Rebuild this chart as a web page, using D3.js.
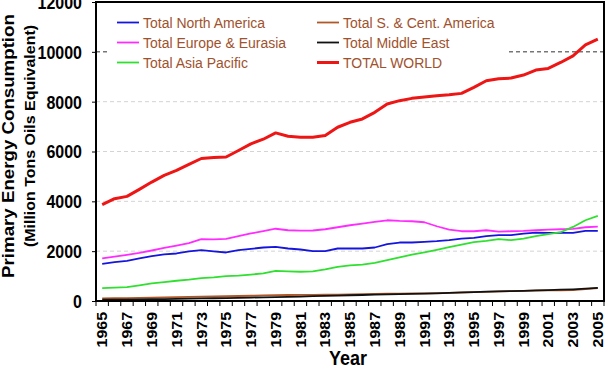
<!DOCTYPE html>
<html>
<head>
<meta charset="utf-8">
<script src="https://cdn.jsdelivr.net/npm/d3@7"></script>
<style>
  body { margin: 0; background: #fff; }
  svg { display: block; font-family: "Liberation Sans", Arial, sans-serif; }
</style>
</head>
<body>
<svg id="chart" width="609" height="374"></svg>
<script>
const years = [1965, 1966, 1967, 1968, 1969, 1970, 1971, 1972, 1973, 1974, 1975, 1976, 1977, 1978,
  1979, 1980, 1981, 1982, 1983, 1984, 1985, 1986, 1987, 1988, 1989, 1990, 1991, 1992, 1993, 1994,
  1995, 1996, 1997, 1998, 1999, 2000, 2001, 2002, 2003, 2004, 2005];

const northAmerica = [1493, 1560, 1613, 1710, 1800, 1870, 1907, 1990, 2040, 1990, 1947, 2040, 2093, 2147,
  2173, 2107, 2067, 2000, 2000, 2107, 2107, 2107, 2147, 2280, 2347, 2347, 2373, 2400, 2440, 2507,
  2533, 2600, 2640, 2640, 2707, 2747, 2733, 2733, 2733, 2813, 2813];
const southCentAmerica = [105, 110, 118, 126, 135, 143, 152, 162, 172, 182, 190, 200, 210, 222,
  234, 240, 243, 246, 250, 258, 265, 273, 283, 290, 296, 302, 310, 318, 328, 340,
  355, 370, 388, 398, 405, 420, 425, 430, 440, 480, 515];
const europeEurasia = [1707, 1780, 1850, 1930, 2027, 2130, 2220, 2320, 2480, 2470, 2493, 2600, 2710, 2800,
  2900, 2840, 2827, 2830, 2880, 2960, 3040, 3107, 3173, 3240, 3213, 3200, 3160, 3000, 2867, 2800,
  2800, 2840, 2787, 2800, 2813, 2840, 2867, 2880, 2893, 2960, 2987];
const middleEast = [50, 55, 58, 63, 70, 78, 86, 94, 104, 110, 116, 128, 138, 148,
  158, 165, 178, 192, 205, 218, 230, 240, 252, 265, 278, 285, 292, 310, 328, 345,
  360, 375, 390, 400, 410, 425, 440, 455, 470, 495, 525];
const asiaPacific = [520, 540, 560, 630, 707, 760, 813, 860, 920, 950, 1000, 1020, 1060, 1110,
  1210, 1187, 1173, 1187, 1267, 1373, 1427, 1460, 1533, 1640, 1750, 1860, 1950, 2050, 2160, 2260,
  2360, 2413, 2480, 2440, 2507, 2600, 2680, 2760, 2973, 3240, 3413];
const totalWorld = [3867, 4107, 4200, 4480, 4773, 5040, 5240, 5480, 5720, 5760, 5780, 6040, 6307, 6493,
  6747, 6613, 6573, 6573, 6640, 6973, 7173, 7307, 7573, 7907, 8040, 8133, 8187, 8240, 8280, 8333,
  8573, 8840, 8920, 8947, 9067, 9267, 9333, 9573, 9840, 10280, 10507];

const yTicks = [0, 2000, 4000, 6000, 8000, 10000, 12000];
const xLabelYears = [1965, 1967, 1969, 1971, 1973, 1975, 1977, 1979, 1981, 1983, 1985, 1987, 1989,
  1991, 1993, 1995, 1997, 1999, 2001, 2003, 2005];

const seriesNames = ["Total North America", "Total S. & Cent. America", "Total Europe & Eurasia",
  "Total Middle East", "Total Asia Pacific", "TOTAL WORLD"];
const seriesValues = [northAmerica, southCentAmerica, europeEurasia, middleEast, asiaPacific, totalWorld];
const seriesColors = ["#1515dd", "#b0582a", "#ff2cff", "#111111", "#30e030", "#ee1515"];
const seriesWidths = [1.8, 1.8, 1.8, 1.8, 1.8, 3];

const STRETCH = 1.1; // texte un peu étiré verticalement
const plot = { left: 96, right: 604, top: 2, bottom: 301 };

const svg = d3.select("#chart");

const x = d3.scaleBand().domain(years).range([plot.left, plot.right]);
const y = d3.scaleLinear().domain([0, 12000]).range([plot.bottom, plot.top]);
const xc = d => x(d) + x.bandwidth() / 2;

// grille
svg.append("g")
  .selectAll("line")
  .data(yTicks.filter(v => v > 0 && v < 12000))
  .join("line")
    .attr("x1", plot.left).attr("x2", plot.right)
    .attr("y1", d => y(d)).attr("y2", d => y(d))
    .attr("stroke", d => d === 10000 ? "#333" : "#d4d4d4")
    .attr("stroke-width", 1)
    .attr("stroke-dasharray", "4,3");

// légende (fond blanc qui masque la grille)
svg.append("rect")
  .attr("x", 110).attr("y", 6)
  .attr("width", 397).attr("height", 74)
  .attr("fill", "#fff");

// courbes
const line = d3.line()
  .x((d, i) => xc(years[i]))
  .y(d => y(d));

seriesValues.forEach((vals, i) => {
  svg.append("path")
    .datum(vals)
    .attr("fill", "none")
    .attr("stroke", seriesColors[i])
    .attr("stroke-width", seriesWidths[i])
    .attr("stroke-linejoin", "round")
    .attr("d", line);
});

// légende
const legendCols = [117, 317];
const legendRows = [22.5, 42.5, 62.5];
const lg = svg.append("g");
seriesNames.forEach((name, i) => {
  const lx = legendCols[i % 2];
  const ly = legendRows[Math.floor(i / 2)];
  lg.append("line")
    .attr("x1", lx).attr("x2", lx + 22)
    .attr("y1", ly).attr("y2", ly)
    .attr("stroke", seriesColors[i])
    .attr("stroke-width", seriesWidths[i]);
  lg.append("text")
    .attr("transform", `translate(${lx + 26},${ly}) scale(1,${STRETCH})`)
    .attr("dy", "0.36em")
    .attr("fill", "#a0522d")
    .style("font-size", "14px")
    .text(name);
});

// axe Y
const yAxis = d3.axisLeft(y).tickValues(yTicks).tickFormat(d3.format("d")).tickSize(4).tickPadding(10);
const gy = svg.append("g")
  .attr("transform", `translate(${plot.left},0)`)
  .call(yAxis);
gy.select(".domain").remove();
gy.selectAll("text")
  .attr("transform", `scale(1,${STRETCH})`)
  .attr("dy", "0.36em")
  .style("font-size", "16px")
  .style("font-weight", "bold")
  .attr("fill", "#000");

// axe X : étiquettes au centre des années, graduations entre les années
const xAxis = d3.axisBottom(x).tickValues(xLabelYears).tickSize(0);
const gx = svg.append("g")
  .attr("transform", `translate(0,${plot.bottom})`)
  .call(xAxis);
gx.select(".domain").remove();
gx.selectAll("text")
  .attr("transform", `scale(1,${STRETCH}) rotate(-90)`)
  .attr("x", -10)
  .attr("y", 0)
  .attr("dy", "0.36em")
  .style("text-anchor", "end")
  .style("font-size", "14.5px")
  .style("font-weight", "bold")
  .attr("fill", "#000");

const bounds = years.map(d => x(d)).concat([x(years[years.length - 1]) + x.step()]);
gx.append("g")
  .selectAll("line")
  .data(bounds)
  .join("line")
    .attr("x1", d => d).attr("x2", d => d)
    .attr("y1", 0).attr("y2", 5)
    .attr("stroke", "#000")
    .attr("stroke-width", 1);

// cadre
svg.append("rect")
  .attr("x", plot.left).attr("y", plot.top)
  .attr("width", plot.right - plot.left)
  .attr("height", plot.bottom - plot.top)
  .attr("fill", "none")
  .attr("stroke", "#000")
  .attr("stroke-width", 2);

// titres
svg.append("text")
  .attr("transform", `translate(14,146) scale(1,${STRETCH}) rotate(-90)`)
  .attr("text-anchor", "middle")
  .style("font-size", "17px")
  .style("font-weight", "bold")
  .text("Primary Energy Consumption");

svg.append("text")
  .attr("transform", `translate(35,136) scale(1,${STRETCH}) rotate(-90)`)
  .attr("text-anchor", "middle")
  .style("font-size", "14.5px")
  .style("font-weight", "bold")
  .text("(Million Tons Oils Equivalent)");

svg.append("text")
  .attr("transform", `translate(348,365) scale(1,${STRETCH})`)
  .attr("text-anchor", "middle")
  .style("font-size", "18px")
  .style("font-weight", "bold")
  .text("Year");
</script>
</body>
</html>
